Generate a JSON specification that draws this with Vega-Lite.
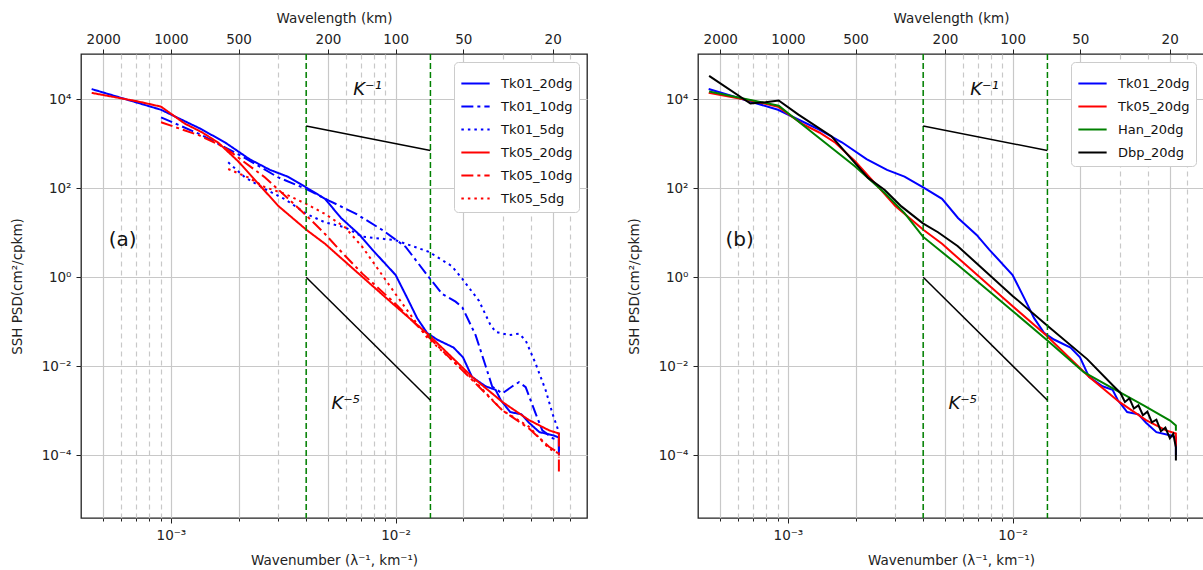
{
  "$schema": "https://vega.github.io/schema/vega-lite/v6.json",
  "padding": {"left": 9, "top": 10, "right": 0, "bottom": 0},
  "spacing": 38,
  "config": {
    "font": "DejaVu Sans",
    "view": {"stroke": "#222222", "strokeWidth": 1.3},
    "axis": {"labelFont": "DejaVu Sans", "labelFontSize": 13.5, "labelColor": "#222222", "titleFont": "DejaVu Sans", "titleFontSize": 13.5, "titleFontWeight": "normal", "titleColor": "#222222", "tickColor": "#222222", "domain": false},
    "legend": {"fillColor": "white", "strokeColor": "#cccccc", "cornerRadius": 4, "padding": 6, "labelFont": "DejaVu Sans", "labelFontSize": 13, "labelColor": "#111111", "symbolType": "stroke", "symbolSize": 800, "symbolStrokeWidth": 2, "labelOffset": 10, "rowPadding": 0}
  },
  "datasets": {
    "curves": [
      {"s": "Tk01_20dg", "k": 0.000444, "p": 16790},
      {"s": "Tk01_20dg", "k": 0.000904, "p": 5754},
      {"s": "Tk01_20dg", "k": 0.001346, "p": 2188},
      {"s": "Tk01_20dg", "k": 0.001738, "p": 1072},
      {"s": "Tk01_20dg", "k": 0.002239, "p": 446.7},
      {"s": "Tk01_20dg", "k": 0.002761, "p": 257},
      {"s": "Tk01_20dg", "k": 0.003304, "p": 182},
      {"s": "Tk01_20dg", "k": 0.004018, "p": 102.3},
      {"s": "Tk01_20dg", "k": 0.004853, "p": 57.5},
      {"s": "Tk01_20dg", "k": 0.005715, "p": 21.4},
      {"s": "Tk01_20dg", "k": 0.006918, "p": 8.91},
      {"s": "Tk01_20dg", "k": 0.00787, "p": 4.17},
      {"s": "Tk01_20dg", "k": 0.01, "p": 1.122},
      {"s": "Tk01_20dg", "k": 0.01127, "p": 0.339},
      {"s": "Tk01_20dg", "k": 0.01247, "p": 0.12},
      {"s": "Tk01_20dg", "k": 0.0138, "p": 0.0562},
      {"s": "Tk01_20dg", "k": 0.01528, "p": 0.0398},
      {"s": "Tk01_20dg", "k": 0.01811, "p": 0.0263},
      {"s": "Tk01_20dg", "k": 0.01995, "p": 0.01585},
      {"s": "Tk01_20dg", "k": 0.02188, "p": 0.00575},
      {"s": "Tk01_20dg", "k": 0.02512, "p": 0.00355},
      {"s": "Tk01_20dg", "k": 0.02786, "p": 0.00295},
      {"s": "Tk01_20dg", "k": 0.02938, "p": 0.00174},
      {"s": "Tk01_20dg", "k": 0.03236, "p": 0.000933},
      {"s": "Tk01_20dg", "k": 0.03631, "p": 0.000832},
      {"s": "Tk01_20dg", "k": 0.03926, "p": 0.000537},
      {"s": "Tk01_20dg", "k": 0.04365, "p": 0.000331},
      {"s": "Tk01_20dg", "k": 0.05012, "p": 0.000282},
      {"s": "Tk01_20dg", "k": 0.0533, "p": 0.000251},
      {"s": "Tk01_20dg", "k": 0.05331, "p": 0.0001},

      {"s": "Tk01_10dg", "k": 0.000904, "p": 3890},
      {"s": "Tk01_10dg", "k": 0.001346, "p": 1622},
      {"s": "Tk01_10dg", "k": 0.001995, "p": 575.4},
      {"s": "Tk01_10dg", "k": 0.003006, "p": 173.8},
      {"s": "Tk01_10dg", "k": 0.004009, "p": 95.5},
      {"s": "Tk01_10dg", "k": 0.005047, "p": 52.5},
      {"s": "Tk01_10dg", "k": 0.006637, "p": 26.9},
      {"s": "Tk01_10dg", "k": 0.00873, "p": 11.48},
      {"s": "Tk01_10dg", "k": 0.01109, "p": 4.786},
      {"s": "Tk01_10dg", "k": 0.01406, "p": 1.0},
      {"s": "Tk01_10dg", "k": 0.01614, "p": 0.417},
      {"s": "Tk01_10dg", "k": 0.01849, "p": 0.282},
      {"s": "Tk01_10dg", "k": 0.01982, "p": 0.209},
      {"s": "Tk01_10dg", "k": 0.0227, "p": 0.0501},
      {"s": "Tk01_10dg", "k": 0.02518, "p": 0.01},
      {"s": "Tk01_10dg", "k": 0.02692, "p": 0.00347},
      {"s": "Tk01_10dg", "k": 0.02985, "p": 0.00245},
      {"s": "Tk01_10dg", "k": 0.03311, "p": 0.00355},
      {"s": "Tk01_10dg", "k": 0.0354, "p": 0.00437},
      {"s": "Tk01_10dg", "k": 0.03793, "p": 0.00339},
      {"s": "Tk01_10dg", "k": 0.04198, "p": 0.000871},
      {"s": "Tk01_10dg", "k": 0.04498, "p": 0.000363},
      {"s": "Tk01_10dg", "k": 0.05012, "p": 0.00024},
      {"s": "Tk01_10dg", "k": 0.0533, "p": 0.000219},
      {"s": "Tk01_10dg", "k": 0.05331, "p": 0.000126},

      {"s": "Tk01_5dg", "k": 0.001799, "p": 380.2},
      {"s": "Tk01_5dg", "k": 0.002138, "p": 173.8},
      {"s": "Tk01_5dg", "k": 0.002624, "p": 95.5},
      {"s": "Tk01_5dg", "k": 0.003221, "p": 56.2},
      {"s": "Tk01_5dg", "k": 0.004018, "p": 26.3},
      {"s": "Tk01_5dg", "k": 0.004853, "p": 17.0},
      {"s": "Tk01_5dg", "k": 0.005957, "p": 13.18},
      {"s": "Tk01_5dg", "k": 0.007112, "p": 8.13},
      {"s": "Tk01_5dg", "k": 0.01, "p": 6.76},
      {"s": "Tk01_5dg", "k": 0.01406, "p": 3.715},
      {"s": "Tk01_5dg", "k": 0.01778, "p": 1.778},
      {"s": "Tk01_5dg", "k": 0.01982, "p": 0.912},
      {"s": "Tk01_5dg", "k": 0.0235, "p": 0.295},
      {"s": "Tk01_5dg", "k": 0.0263, "p": 0.0891},
      {"s": "Tk01_5dg", "k": 0.02786, "p": 0.0589},
      {"s": "Tk01_5dg", "k": 0.03199, "p": 0.0501},
      {"s": "Tk01_5dg", "k": 0.0354, "p": 0.0537},
      {"s": "Tk01_5dg", "k": 0.03793, "p": 0.038},
      {"s": "Tk01_5dg", "k": 0.04198, "p": 0.01148},
      {"s": "Tk01_5dg", "k": 0.04656, "p": 0.00288},
      {"s": "Tk01_5dg", "k": 0.04989, "p": 0.000871},
      {"s": "Tk01_5dg", "k": 0.0533, "p": 0.000331},
      {"s": "Tk01_5dg", "k": 0.05331, "p": 0.000219},

      {"s": "Tk05_20dg", "k": 0.000444, "p": 13800},
      {"s": "Tk05_20dg", "k": 0.000708, "p": 8913},
      {"s": "Tk05_20dg", "k": 0.000904, "p": 6761},
      {"s": "Tk05_20dg", "k": 0.001153, "p": 2818},
      {"s": "Tk05_20dg", "k": 0.00138, "p": 1778},
      {"s": "Tk05_20dg", "k": 0.001626, "p": 1047},
      {"s": "Tk05_20dg", "k": 0.001995, "p": 398},
      {"s": "Tk05_20dg", "k": 0.002449, "p": 125.9},
      {"s": "Tk05_20dg", "k": 0.003006, "p": 39.8},
      {"s": "Tk05_20dg", "k": 0.004018, "p": 11.48},
      {"s": "Tk05_20dg", "k": 0.004853, "p": 5.62},
      {"s": "Tk05_20dg", "k": 0.005957, "p": 2.239},
      {"s": "Tk05_20dg", "k": 0.009333, "p": 0.302},
      {"s": "Tk05_20dg", "k": 0.01406, "p": 0.0501},
      {"s": "Tk05_20dg", "k": 0.02193, "p": 0.00575},
      {"s": "Tk05_20dg", "k": 0.02985, "p": 0.00158},
      {"s": "Tk05_20dg", "k": 0.03926, "p": 0.000617},
      {"s": "Tk05_20dg", "k": 0.04819, "p": 0.000363},
      {"s": "Tk05_20dg", "k": 0.0533, "p": 0.000309},
      {"s": "Tk05_20dg", "k": 0.05331, "p": 0.000158},

      {"s": "Tk05_10dg", "k": 0.000904, "p": 3020},
      {"s": "Tk05_10dg", "k": 0.001346, "p": 1514},
      {"s": "Tk05_10dg", "k": 0.001738, "p": 812.8},
      {"s": "Tk05_10dg", "k": 0.002624, "p": 173.8},
      {"s": "Tk05_10dg", "k": 0.003221, "p": 67.6},
      {"s": "Tk05_10dg", "k": 0.004018, "p": 23.99},
      {"s": "Tk05_10dg", "k": 0.004853, "p": 9.33},
      {"s": "Tk05_10dg", "k": 0.005957, "p": 3.02},
      {"s": "Tk05_10dg", "k": 0.007112, "p": 1.202},
      {"s": "Tk05_10dg", "k": 0.01, "p": 0.251},
      {"s": "Tk05_10dg", "k": 0.01361, "p": 0.0525},
      {"s": "Tk05_10dg", "k": 0.02193, "p": 0.0049},
      {"s": "Tk05_10dg", "k": 0.02985, "p": 0.001023},
      {"s": "Tk05_10dg", "k": 0.03926, "p": 0.000398},
      {"s": "Tk05_10dg", "k": 0.04819, "p": 0.000155},
      {"s": "Tk05_10dg", "k": 0.0533, "p": 0.000112},
      {"s": "Tk05_10dg", "k": 0.05331, "p": 0.0000417},

      {"s": "Tk05_5dg", "k": 0.001799, "p": 269.2},
      {"s": "Tk05_5dg", "k": 0.002208, "p": 173.8},
      {"s": "Tk05_5dg", "k": 0.002624, "p": 104.7},
      {"s": "Tk05_5dg", "k": 0.003221, "p": 74.1},
      {"s": "Tk05_5dg", "k": 0.004018, "p": 43.65},
      {"s": "Tk05_5dg", "k": 0.004853, "p": 26.3},
      {"s": "Tk05_5dg", "k": 0.005957, "p": 13.18},
      {"s": "Tk05_5dg", "k": 0.007112, "p": 4.786},
      {"s": "Tk05_5dg", "k": 0.01, "p": 0.417},
      {"s": "Tk05_5dg", "k": 0.01361, "p": 0.0479},
      {"s": "Tk05_5dg", "k": 0.02193, "p": 0.00525},
      {"s": "Tk05_5dg", "k": 0.02985, "p": 0.001023},
      {"s": "Tk05_5dg", "k": 0.03926, "p": 0.000437},
      {"s": "Tk05_5dg", "k": 0.04819, "p": 0.000141},
      {"s": "Tk05_5dg", "k": 0.0533, "p": 0.00011},
      {"s": "Tk05_5dg", "k": 0.05331, "p": 0.0000891},

      {"s": "Han_20dg", "k": 0.000446, "p": 14790},
      {"s": "Han_20dg", "k": 0.00091, "p": 7079},
      {"s": "Han_20dg", "k": 0.001321, "p": 1585},
      {"s": "Han_20dg", "k": 0.001986, "p": 309},
      {"s": "Han_20dg", "k": 0.002698, "p": 77.6},
      {"s": "Han_20dg", "k": 0.003304, "p": 27.5},
      {"s": "Han_20dg", "k": 0.00399, "p": 8.13},
      {"s": "Han_20dg", "k": 0.005689, "p": 1.905},
      {"s": "Han_20dg", "k": 0.01, "p": 0.174},
      {"s": "Han_20dg", "k": 0.01429, "p": 0.038},
      {"s": "Han_20dg", "k": 0.02075, "p": 0.00733},
      {"s": "Han_20dg", "k": 0.02818, "p": 0.00309},
      {"s": "Han_20dg", "k": 0.03828, "p": 0.00132},
      {"s": "Han_20dg", "k": 0.05023, "p": 0.000603},
      {"s": "Han_20dg", "k": 0.0533, "p": 0.000468},
      {"s": "Han_20dg", "k": 0.05331, "p": 0.000355},

      {"s": "Dbp_20dg", "k": 0.000446, "p": 33110},
      {"s": "Dbp_20dg", "k": 0.000681, "p": 7943},
      {"s": "Dbp_20dg", "k": 0.000794, "p": 8511},
      {"s": "Dbp_20dg", "k": 0.00091, "p": 9333},
      {"s": "Dbp_20dg", "k": 0.001114, "p": 4467},
      {"s": "Dbp_20dg", "k": 0.001567, "p": 1445},
      {"s": "Dbp_20dg", "k": 0.001795, "p": 660.7},
      {"s": "Dbp_20dg", "k": 0.002275, "p": 169.8},
      {"s": "Dbp_20dg", "k": 0.002698, "p": 91.2},
      {"s": "Dbp_20dg", "k": 0.003199, "p": 38.9},
      {"s": "Dbp_20dg", "k": 0.00399, "p": 16.2},
      {"s": "Dbp_20dg", "k": 0.004656, "p": 10.23},
      {"s": "Dbp_20dg", "k": 0.005689, "p": 5.01},
      {"s": "Dbp_20dg", "k": 0.01, "p": 0.38},
      {"s": "Dbp_20dg", "k": 0.01429, "p": 0.0813},
      {"s": "Dbp_20dg", "k": 0.02148, "p": 0.01445},
      {"s": "Dbp_20dg", "k": 0.02818, "p": 0.00355},
      {"s": "Dbp_20dg", "k": 0.0302, "p": 0.00251},
      {"s": "Dbp_20dg", "k": 0.03162, "p": 0.00158},
      {"s": "Dbp_20dg", "k": 0.03311, "p": 0.00191},
      {"s": "Dbp_20dg", "k": 0.03467, "p": 0.00112},
      {"s": "Dbp_20dg", "k": 0.03631, "p": 0.00132},
      {"s": "Dbp_20dg", "k": 0.03802, "p": 0.000794},
      {"s": "Dbp_20dg", "k": 0.03981, "p": 0.000955},
      {"s": "Dbp_20dg", "k": 0.04169, "p": 0.00055},
      {"s": "Dbp_20dg", "k": 0.04365, "p": 0.000631},
      {"s": "Dbp_20dg", "k": 0.04571, "p": 0.000347},
      {"s": "Dbp_20dg", "k": 0.04786, "p": 0.000417},
      {"s": "Dbp_20dg", "k": 0.05012, "p": 0.00024},
      {"s": "Dbp_20dg", "k": 0.05188, "p": 0.000302},
      {"s": "Dbp_20dg", "k": 0.0533, "p": 0.000151},
      {"s": "Dbp_20dg", "k": 0.05331, "p": 0.0000759}
    ],
    "vlines": [{"k": 0.004}, {"k": 0.01429}],
    "kref": [
      {"g": "k1", "k": 0.004, "p": 2500},
      {"g": "k1", "k": 0.01429, "p": 700},
      {"g": "k5", "k": 0.004, "p": 1},
      {"g": "k5", "k": 0.01429, "p": 0.00172}
    ],
    "knotes": [
      {"t": "K⁻¹", "k": 0.0075, "p": 16000},
      {"t": "K⁻⁵", "k": 0.006, "p": 0.00145}
    ],
    "topaxis": [{"k": 0.01}]
  },
  "resolve": {
    "scale": {"color": "independent", "strokeDash": "independent"},
    "legend": {"color": "independent", "strokeDash": "independent"}
  },
  "hconcat": [
    {
      "width": 506,
      "height": 464,
      "resolve": {"axis": {"x": "independent"}},
      "layer": [
        {
          "data": {"name": "curves"},
          "transform": [{"filter": {"field": "s", "oneOf": ["Tk01_20dg", "Tk01_10dg", "Tk01_5dg", "Tk05_20dg", "Tk05_10dg", "Tk05_5dg"]}}],
          "mark": {"type": "line", "strokeWidth": 2, "clip": true},
          "encoding": {
            "x": {
              "field": "k", "type": "quantitative",
              "scale": {"type": "log", "domain": [0.000398, 0.0711], "nice": false},
              "axis": {
                "orient": "bottom",
                "title": "Wavenumber (λ⁻¹, km⁻¹)",
                "values": [0.0005, 0.0006, 0.0007, 0.0008, 0.0009, 0.001, 0.002, 0.003, 0.004, 0.005, 0.006, 0.007, 0.008, 0.009, 0.01, 0.02, 0.03, 0.04, 0.05, 0.06],
                "labelExpr": "datum.value == 0.001 ? '10⁻³' : datum.value == 0.01 ? '10⁻²' : ''",
                "grid": true, "gridColor": "#c8c8c8", "gridWidth": 1.2,
                "gridDash": {"condition": {"test": "indexof([0.0005,0.001,0.002,0.005,0.01,0.02,0.05], datum.value) >= 0", "value": []}, "value": [5, 4]},
                "tickSize": {"condition": {"test": "datum.value == 0.001 || datum.value == 0.01", "value": 5}, "value": 3},
                "labelPadding": 5, "titlePadding": 12
              }
            },
            "y": {
              "field": "p", "type": "quantitative",
              "scale": {"type": "log", "domain": [3.9e-6, 103000], "nice": false},
              "axis": {
                "title": "SSH PSD(cm²/cpkm)",
                "values": [0.0001, 0.01, 1, 100, 10000],
                "labelExpr": "datum.value < 0.001 ? '10⁻⁴' : datum.value < 0.1 ? '10⁻²' : datum.value < 10 ? '10⁰' : datum.value < 1000 ? '10²' : '10⁴'",
                "grid": true, "gridColor": "#c8c8c8", "gridWidth": 1.2,
                "tickSize": 5, "labelPadding": 5, "titlePadding": 17
              }
            },
            "color": {
              "field": "s", "type": "nominal",
              "scale": {"domain": ["Tk01_20dg", "Tk01_10dg", "Tk01_5dg", "Tk05_20dg", "Tk05_10dg", "Tk05_5dg"], "range": ["#0000ff", "#0000ff", "#0000ff", "#ff0000", "#ff0000", "#ff0000"]},
              "legend": {"title": null, "orient": "top-right", "offset": 8}
            },
            "strokeDash": {
              "field": "s", "type": "nominal",
              "scale": {"domain": ["Tk01_20dg", "Tk01_10dg", "Tk01_5dg", "Tk05_20dg", "Tk05_10dg", "Tk05_5dg"], "range": [[1, 0], [12, 4, 3, 4], [2.5, 4], [1, 0], [12, 4, 3, 4], [2.5, 4]]},
              "legend": {"title": null, "orient": "top-right", "offset": 8}
            }
          }
        },
        {
          "data": {"name": "vlines"},
          "mark": {"type": "rule", "color": "#008000", "strokeWidth": 1.5, "strokeDash": [6, 3]},
          "encoding": {"x": {"field": "k", "type": "quantitative", "axis": null}}
        },
        {
          "data": {"name": "kref"},
          "mark": {"type": "line", "color": "#000000", "strokeWidth": 1.5},
          "encoding": {
            "x": {"field": "k", "type": "quantitative", "axis": null},
            "y": {"field": "p", "type": "quantitative"},
            "detail": {"field": "g"}
          }
        },
        {
          "data": {"name": "knotes"},
          "mark": {"type": "text", "fontSize": 18, "fontStyle": "italic", "color": "#111111", "align": "center", "baseline": "middle"},
          "encoding": {
            "x": {"field": "k", "type": "quantitative", "axis": null},
            "y": {"field": "p", "type": "quantitative"},
            "text": {"field": "t"}
          }
        },
        {
          "data": {"values": [{"t": "(a)", "k": 0.00061, "p": 6.8}]},
          "mark": {"type": "text", "fontSize": 20, "color": "#111111", "align": "center", "baseline": "middle"},
          "encoding": {
            "x": {"field": "k", "type": "quantitative", "axis": null},
            "y": {"field": "p", "type": "quantitative"},
            "text": {"field": "t"}
          }
        },
        {
          "data": {"name": "topaxis"},
          "mark": {"type": "rule", "opacity": 0},
          "encoding": {
            "x": {
              "field": "k", "type": "quantitative",
              "axis": {"orient": "top", "title": "Wavelength (km)", "values": [0.0005, 0.001, 0.002, 0.005, 0.01, 0.02, 0.05], "labelExpr": "format(1 / datum.value, 'd')", "grid": false, "tickSize": 5, "labelPadding": 3, "titlePadding": 7}
            }
          }
        }
      ]
    },
    {
      "width": 506,
      "height": 464,
      "resolve": {"axis": {"x": "independent"}},
      "layer": [
        {
          "data": {"name": "curves"},
          "transform": [{"filter": {"field": "s", "oneOf": ["Tk01_20dg", "Tk05_20dg", "Han_20dg", "Dbp_20dg"]}}],
          "mark": {"type": "line", "strokeWidth": 2, "clip": true},
          "encoding": {
            "x": {
              "field": "k", "type": "quantitative",
              "scale": {"type": "log", "domain": [0.000398, 0.0711], "nice": false},
              "axis": {
                "orient": "bottom",
                "title": "Wavenumber (λ⁻¹, km⁻¹)",
                "values": [0.0005, 0.0006, 0.0007, 0.0008, 0.0009, 0.001, 0.002, 0.003, 0.004, 0.005, 0.006, 0.007, 0.008, 0.009, 0.01, 0.02, 0.03, 0.04, 0.05, 0.06],
                "labelExpr": "datum.value == 0.001 ? '10⁻³' : datum.value == 0.01 ? '10⁻²' : ''",
                "grid": true, "gridColor": "#c8c8c8", "gridWidth": 1.2,
                "gridDash": {"condition": {"test": "indexof([0.0005,0.001,0.002,0.005,0.01,0.02,0.05], datum.value) >= 0", "value": []}, "value": [5, 4]},
                "tickSize": {"condition": {"test": "datum.value == 0.001 || datum.value == 0.01", "value": 5}, "value": 3},
                "labelPadding": 5, "titlePadding": 12
              }
            },
            "y": {
              "field": "p", "type": "quantitative",
              "scale": {"type": "log", "domain": [3.9e-6, 103000], "nice": false},
              "axis": {
                "title": "SSH PSD(cm²/cpkm)",
                "values": [0.0001, 0.01, 1, 100, 10000],
                "labelExpr": "datum.value < 0.001 ? '10⁻⁴' : datum.value < 0.1 ? '10⁻²' : datum.value < 10 ? '10⁰' : datum.value < 1000 ? '10²' : '10⁴'",
                "grid": true, "gridColor": "#c8c8c8", "gridWidth": 1.2,
                "tickSize": 5, "labelPadding": 5, "titlePadding": 17
              }
            },
            "color": {
              "field": "s", "type": "nominal",
              "scale": {"domain": ["Tk01_20dg", "Tk05_20dg", "Han_20dg", "Dbp_20dg"], "range": ["#0000ff", "#ff0000", "#008000", "#000000"]},
              "legend": {"title": null, "orient": "top-right", "offset": 8}
            }
          }
        },
        {
          "data": {"name": "vlines"},
          "mark": {"type": "rule", "color": "#008000", "strokeWidth": 1.5, "strokeDash": [6, 3]},
          "encoding": {"x": {"field": "k", "type": "quantitative", "axis": null}}
        },
        {
          "data": {"name": "kref"},
          "mark": {"type": "line", "color": "#000000", "strokeWidth": 1.5},
          "encoding": {
            "x": {"field": "k", "type": "quantitative", "axis": null},
            "y": {"field": "p", "type": "quantitative"},
            "detail": {"field": "g"}
          }
        },
        {
          "data": {"name": "knotes"},
          "mark": {"type": "text", "fontSize": 18, "fontStyle": "italic", "color": "#111111", "align": "center", "baseline": "middle"},
          "encoding": {
            "x": {"field": "k", "type": "quantitative", "axis": null},
            "y": {"field": "p", "type": "quantitative"},
            "text": {"field": "t"}
          }
        },
        {
          "data": {"values": [{"t": "(b)", "k": 0.00061, "p": 6.8}]},
          "mark": {"type": "text", "fontSize": 20, "color": "#111111", "align": "center", "baseline": "middle"},
          "encoding": {
            "x": {"field": "k", "type": "quantitative", "axis": null},
            "y": {"field": "p", "type": "quantitative"},
            "text": {"field": "t"}
          }
        },
        {
          "data": {"name": "topaxis"},
          "mark": {"type": "rule", "opacity": 0},
          "encoding": {
            "x": {
              "field": "k", "type": "quantitative",
              "axis": {"orient": "top", "title": "Wavelength (km)", "values": [0.0005, 0.001, 0.002, 0.005, 0.01, 0.02, 0.05], "labelExpr": "format(1 / datum.value, 'd')", "grid": false, "tickSize": 5, "labelPadding": 3, "titlePadding": 7}
            }
          }
        }
      ]
    }
  ]
}
